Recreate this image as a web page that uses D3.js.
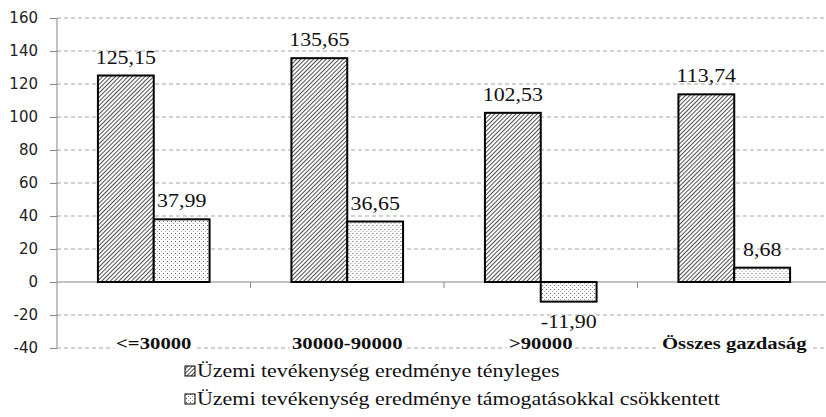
<!DOCTYPE html>
<html>
<head>
<meta charset="utf-8">
<script src="https://cdn.jsdelivr.net/npm/d3@7"></script>
<style>
  body { margin: 0; background: #fff; }
  svg { display: block; }
  .tick-y { font-family: "DejaVu Sans", sans-serif; font-size: 15px; fill: #222; }
  .serif { font-family: "Liberation Serif", "Times New Roman", Times, serif; font-size: 18px; fill: #111; }
  .cat { font-weight: bold; font-size: 17px; }
</style>
</head>
<body>
<div id="chart"></div>
<script>
const categories = ["<=30000", "30000-90000", ">90000", "Összes gazdaság"];
const seriesNames = ["Üzemi tevékenység eredménye tényleges", "Üzemi tevékenység eredménye támogatásokkal csökkentett"];
const actual = [125.15, 135.65, 102.53, 113.74];
const reduced = [37.99, 36.65, -11.90, 8.68];
const yTicks = [-40, -20, 0, 20, 40, 60, 80, 100, 120, 140, 160];

const width = 826, height = 417;
const plotLeft = 57, plotRight = 831, plotTop = 18, plotBottom = 348;
const stretch = 1.22; // the source picture is stretched sideways

const svg = d3.select("#chart").append("svg")
  .attr("width", width).attr("height", height);

// patterns for the two series
const defs = svg.append("defs");
const hatch = defs.append("pattern").attr("id", "hatch")
  .attr("patternUnits", "userSpaceOnUse").attr("width", 3).attr("height", 3)
  .attr("patternTransform", "rotate(45)");
hatch.append("rect").attr("width", 3).attr("height", 3).attr("fill", "#fff");
hatch.append("line").attr("x1", 0).attr("y1", 0).attr("x2", 0).attr("y2", 3)
  .attr("stroke", "#222").attr("stroke-width", 1.6);

const dots = defs.append("pattern").attr("id", "dots")
  .attr("patternUnits", "userSpaceOnUse").attr("width", 4).attr("height", 4);
dots.append("rect").attr("width", 4).attr("height", 4).attr("fill", "#fff");
dots.append("rect").attr("x", 1).attr("y", 1).attr("width", 1).attr("height", 1).attr("fill", "#555");
dots.append("rect").attr("x", 3).attr("y", 3).attr("width", 1).attr("height", 1).attr("fill", "#999");

const y = d3.scaleLinear().domain([-40, 160]).range([plotBottom, plotTop]);
const x0 = d3.scaleBand().domain(categories).range([plotLeft, plotRight])
  .paddingInner(0.423).paddingOuter(0.2115);
const x1 = d3.scaleBand().domain([0, 1]).range([0, x0.bandwidth()]);

// gridlines
svg.append("g").selectAll("line").data(yTicks.filter(d => d !== 0)).join("line")
  .attr("x1", plotLeft).attr("x2", width)
  .attr("y1", d => y(d)).attr("y2", d => y(d))
  .attr("stroke", "#a6a6a6").attr("stroke-dasharray", "4,3");

// y axis
const yAxis = svg.append("g").attr("transform", `translate(${plotLeft},0)`)
  .call(d3.axisLeft(y).tickValues(yTicks).tickSize(7).tickPadding(12).tickFormat(d => String(d)));
yAxis.attr("font-family", null).attr("font-size", null);
yAxis.select(".domain").attr("stroke", "#868686").attr("d", `M0,${y(160)}V${y(-40)}`);
yAxis.selectAll(".tick line").attr("stroke", "#868686");
yAxis.selectAll(".tick text").attr("class", "tick-y").attr("fill", null);

// zero line with category ticks
svg.append("line").attr("x1", plotLeft).attr("x2", width)
  .attr("y1", y(0)).attr("y2", y(0)).attr("stroke", "#868686");
svg.append("g").selectAll("line").data(categories.slice(1)).join("line")
  .attr("x1", d => x0(d) - x0.step() * x0.paddingInner() / 2)
  .attr("x2", d => x0(d) - x0.step() * x0.paddingInner() / 2)
  .attr("y1", y(0)).attr("y2", y(0) + 6).attr("stroke", "#868686");

// bars
const rows = categories.map((c, i) => [
  {s: 0, v: actual[i]}, {s: 1, v: reduced[i]}
]);
const groups = svg.append("g").selectAll("g").data(categories).join("g")
  .attr("transform", d => `translate(${x0(d)},0)`);
groups.selectAll("rect").data((d, i) => rows[i]).join("rect")
  .attr("x", d => x1(d.s))
  .attr("width", x1.bandwidth())
  .attr("y", d => y(Math.max(0, d.v)))
  .attr("height", d => Math.abs(y(d.v) - y(0)))
  .attr("fill", d => d.s === 0 ? "url(#hatch)" : "url(#dots)")
  .attr("stroke", "#000").attr("stroke-width", 2);

// value labels
const fmt = v => v.toFixed(2).replace(".", ",");
groups.selectAll("text.lbl").data((d, i) => rows[i]).join("text")
  .attr("class", "lbl serif")
  .attr("text-anchor", "middle")
  .attr("transform", d => `translate(${x1(d.s) + x1.bandwidth() / 2},${d.v >= 0 ? y(d.v) - 12 : y(d.v) + 26}) scale(${stretch},1)`)
  .text(d => fmt(d.v));

// category labels on the bottom gridline, with white background
const catG = svg.append("g").selectAll("g").data(categories).join("g")
  .attr("transform", d => `translate(${x0(d) + x0.bandwidth() / 2},${y(-40) + 1}) scale(${stretch},1)`);
catG.append("text").attr("class", "serif cat").attr("text-anchor", "middle").text(d => d);
catG.insert("rect", "text").each(function() {
  const bb = this.parentNode.querySelector("text").getBBox();
  d3.select(this).attr("x", bb.x - 2).attr("y", bb.y).attr("width", bb.width + 4).attr("height", bb.height).attr("fill", "#fff");
});

// legend
const legX = 185, legY = [377, 405];
const leg = svg.append("g").selectAll("g").data(seriesNames).join("g")
  .attr("transform", (d, i) => `translate(${legX},${legY[i]})`);
leg.append("rect").attr("x", 0).attr("y", -11).attr("width", 10).attr("height", 10)
  .attr("fill", (d, i) => i === 0 ? "url(#hatch)" : "url(#dots)")
  .attr("stroke", "#000").attr("stroke-width", 1);
leg.append("text").attr("class", "serif")
  .attr("transform", `translate(12,0) scale(${stretch},1)`).text(d => d);
</script>
</body>
</html>
